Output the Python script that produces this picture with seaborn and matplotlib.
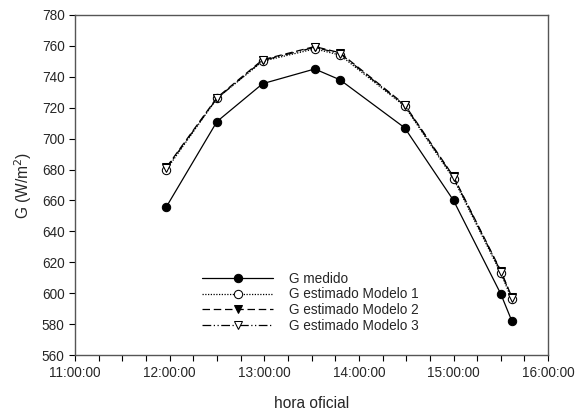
import pandas as pd
import numpy as np
from matplotlib import pyplot as plt
from matplotlib.ticker import MultipleLocator, FuncFormatter
import seaborn as sns

# hora oficial of each measurement
horas = ["11:58:00", "12:30:00", "12:59:00", "13:32:00", "13:48:00",
         "14:29:00", "15:00:00", "15:30:00", "15:37:00"]

g_medido = [656, 711, 735.5, 745, 738, 707, 660, 599.5, 582]
g_modelo1 = [680, 726, 750, 758, 754, 721, 674, 613, 596]
g_modelo2 = [681.5, 726.5, 751, 759.5, 755.5, 722, 675.5, 614.5, 597.5]
g_modelo3 = [681, 726, 750.5, 759, 755, 721.5, 675, 614, 597]

sns.set_style("ticks")
plt.rcParams['font.family'] = ['Liberation Sans', 'DejaVu Sans']

t = pd.to_timedelta(horas).total_seconds() / 3600.0

fig = plt.figure(figsize=(5.77, 4.12), dpi=100)
ax = fig.add_axes([0.130, 0.138, 0.820, 0.826])

ms = 6
sns.lineplot(x=t, y=g_medido, ax=ax, color="black", lw=0.9, marker="o",
             markersize=ms, markerfacecolor="black", markeredgecolor="black",
             linestyle="-", label="G medido")
sns.lineplot(x=t, y=g_modelo1, ax=ax, color="black", lw=0.9, marker="o",
             markersize=ms, markerfacecolor="white", markeredgecolor="black",
             linestyle=(0, (1, 1.2)), label="G estimado Modelo 1")
sns.lineplot(x=t, y=g_modelo2, ax=ax, color="black", lw=0.9, marker="v",
             markersize=ms, markerfacecolor="black", markeredgecolor="black",
             linestyle=(0, (6, 3)), label="G estimado Modelo 2")
sns.lineplot(x=t, y=g_modelo3, ax=ax, color="black", lw=0.9, marker="v",
             markersize=ms, markerfacecolor="white", markeredgecolor="black",
             linestyle=(0, (7, 2, 1, 2, 1, 2)), label="G estimado Modelo 3")

ax.set_xlim(11, 16)
ax.set_ylim(560, 780)
ax.xaxis.set_major_locator(MultipleLocator(1))
ax.xaxis.set_minor_locator(MultipleLocator(0.25))
ax.xaxis.set_major_formatter(FuncFormatter(lambda v, p: "%d:00:00" % round(v)))
ax.yaxis.set_major_locator(MultipleLocator(20))

ax.tick_params(axis="both", which="both", direction="out", labelsize=9.8,
               color="black", width=0.8)
ax.tick_params(axis="x", which="both", length=4)
ax.tick_params(axis="y", length=4)
for s in ax.spines.values():
    s.set_visible(True)
    s.set_color("#555555")
    s.set_linewidth(1.0)

ax.set_xlabel("hora oficial", fontsize=11.2, labelpad=12)
ax.set_ylabel("G (W/m$^2$)", fontsize=11.2, labelpad=6)

ax.legend(loc="lower left", bbox_to_anchor=(0.243, 0.03), frameon=False,
          fontsize=9.8, handlelength=5.2, labelspacing=0.12, handletextpad=1.2)

fig.savefig("out.png", dpi=100)
